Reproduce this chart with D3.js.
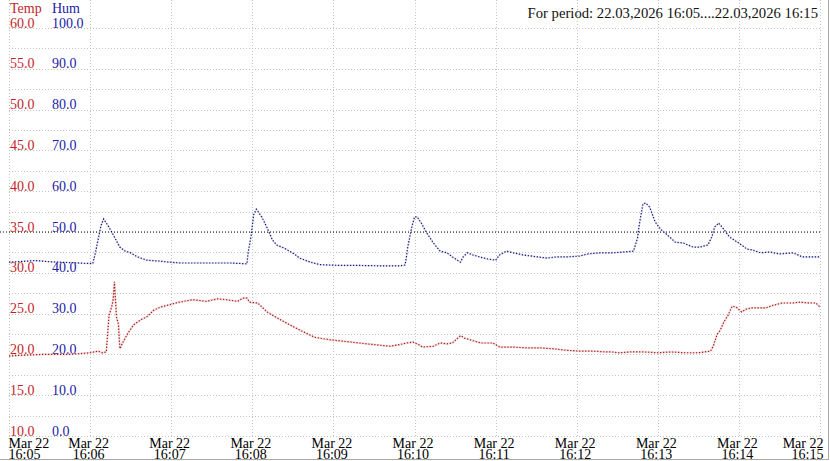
<!DOCTYPE html>
<html><head><meta charset="utf-8">
<script src="https://cdn.jsdelivr.net/npm/d3@7"></script>
<style>
body{margin:0;background:#fff;}
svg{display:block;font-family:"Liberation Serif","Times New Roman",serif;}
</style></head><body>
<svg id="c" width="830" height="461"></svg>
<script>
// ---------- data ----------
const periodStart = "2026-03-22T16:05:00";
const periodEnd   = "2026-03-22T16:15:00";
const titleText = "For period: 22.03,2026 16:05....22.03,2026 16:15";
const tempHeader = "Temp";
const humHeader = "Hum";
const tempTicks = [10, 15, 20, 25, 30, 35, 40, 45, 50, 55, 60];
const humTicks  = [0, 10, 20, 30, 40, 50, 60, 70, 80, 90, 100];
const gridTemps = [10,12.5,15,17.5,20,22.5,25,27.5,30,32.5,35,37.5,40,42.5,45,47.5,50,52.5,55,57.5,60];
const timeTickMinutes = [0,1,2,3,4,5,6,7,8,9,10];
const timeTickDate = "Mar 22";
const timeTickTimes = ["16:05","16:06","16:07","16:08","16:09","16:10","16:11","16:12","16:13","16:14","16:15"];
const refTemp = 35;

// [seconds after 16:05:00, humidity %]
const humSeries = [
 [0,42.6],[10,42.8],[20,43.0],[30,42.7],[45,42.5],[58,42.3],[62,42.3],[64,45.0],[66,48.3],[68,51.5],[70,53.2],
 [73,51.7],[76,50.0],[80,47.5],[82,46.3],[86,45.3],[90,44.9],[95,43.9],[102,43.1],[110,42.9],[119,42.6],
 [127,42.4],[139,42.4],[151,42.4],[164,42.4],[176,42.2],[177,45.1],[179,48.8],[181,54.2],[183,55.6],
 [187,53.7],[191,51.0],[195,48.0],[198,46.8],[204,46.0],[212,44.4],[215,43.6],[223,42.6],[230,42.0],
 [245,41.8],[260,41.8],[275,41.7],[289,41.7],[293,41.9],[294,43.9],[295,46.3],[298,51.2],[300,53.7],
 [302,53.7],[305,52.2],[309,49.8],[314,47.3],[319,45.3],[324,44.9],[328,43.9],[334,42.6],[336,43.9],
 [339,44.9],[343,44.4],[348,43.9],[354,43.4],[360,43.1],[363,44.4],[368,45.3],[373,44.9],[380,44.4],
 [391,43.9],[398,43.6],[405,43.9],[413,43.9],[422,44.1],[428,44.6],[437,44.9],[447,44.9],[455,45.1],
 [462,45.3],[465,48.5],[466,51.2],[469,56.9],[471,57.1],[474,56.1],[478,52.5],[482,50.7],[487,49.3],
 [493,47.5],[499,47.3],[506,46.3],[511,46.3],[517,46.8],[520,48.8],[522,51.2],[525,52.2],[528,51.0],
 [533,48.8],[539,47.5],[542,46.8],[546,45.8],[550,45.6],[556,44.9],[563,45.1],[570,44.6],[580,44.9],
 [587,43.9],[593,43.9],[600,43.9]
];
// [seconds after 16:05:00, temperature °C]
const tempSeries = [
 [0,19.8],[10,19.9],[25,20.0],[45,20.0],[60,20.2],[66,20.4],[69,20.2],[72,20.3],[74,24.8],[76,25.8],
 [77,26.7],[78,28.9],[79.5,24.6],[81,23.7],[82,20.7],[84,21.4],[88,22.6],[92,23.6],[97,24.2],[102,24.6],
 [107,25.4],[112,25.8],[119,26.1],[126,26.4],[136,26.7],[146,26.5],[154,26.8],[161,26.7],[169,26.5],
 [173,26.9],[176,26.9],[178,26.4],[184,26.3],[191,25.2],[198,24.5],[208,23.6],[215,23.0],[226,22.1],
 [237,21.8],[248,21.6],[259,21.4],[270,21.2],[282,21.0],[289,21.2],[294,21.4],[299,21.5],[303,21.2],
 [306,20.9],[314,21.0],[319,21.4],[324,21.3],[328,21.4],[334,22.3],[337,22.0],[341,21.8],[349,21.4],
 [358,21.4],[363,20.9],[373,20.9],[383,20.8],[393,20.8],[402,20.7],[413,20.5],[422,20.4],[432,20.4],
 [442,20.3],[446,20.3],[451,20.2],[460,20.3],[470,20.3],[480,20.2],[490,20.3],[500,20.2],[510,20.2],
 [519,20.4],[521,21.0],[524,22.5],[526,22.9],[529,24.0],[532,24.8],[535,25.9],[538,25.8],[542,25.2],
 [546,25.6],[550,25.7],[560,25.7],[565,26.0],[572,26.3],[580,26.3],[585,26.4],[592,26.3],[597,26.3],[600,25.8]
];

// ---------- layout ----------
const plotLeft = 9, plotRight = 820, plotTop = 28, plotBottom = 436;
const t0 = new Date(periodStart).getTime();
const toDate = s => new Date(t0 + s * 1000);

const x = d3.scaleTime().domain([new Date(periodStart), new Date(periodEnd)]).range([plotLeft, plotRight]);
const yT = d3.scaleLinear().domain([10, 60]).range([plotBottom, plotTop]);
const yH = d3.scaleLinear().domain([0, 100]).range([plotBottom, plotTop]);

const svg = d3.select("#c");
const gridColor = "#c4c4c4";
const tempColor = "#c41e2a";
const humColor = "#2222a8";

// horizontal grid
const hg = svg.append("g").attr("transform", `translate(${plotLeft},0)`)
  .call(d3.axisLeft(yT).tickValues(gridTemps).tickSize(-(plotRight - plotLeft)).tickFormat(""));
hg.select(".domain").remove();
hg.selectAll("line").attr("stroke", gridColor).attr("stroke-dasharray", "1,2").attr("shape-rendering","crispEdges");

// vertical grid
const vg = svg.append("g").attr("transform", `translate(0,${plotBottom})`)
  .call(d3.axisTop(x).tickValues(timeTickMinutes.map(m => toDate(m * 60))).tickSize(plotBottom).tickFormat(""));
vg.select(".domain").remove();
vg.selectAll("line").attr("stroke", gridColor).attr("stroke-dasharray", "1,2").attr("shape-rendering","crispEdges");

// border lines
svg.append("line").attr("x1", 0).attr("x2", 829).attr("y1", 459.5).attr("y2", 459.5).attr("stroke", "#a8a8a8");
svg.append("line").attr("x1", 828.5).attr("x2", 828.5).attr("y1", 0).attr("y2", 459.5).attr("stroke", "#a8a8a8");

// reference line
svg.append("line").attr("x1", 0).attr("x2", plotRight).attr("y1", yT(refTemp)).attr("y2", yT(refTemp))
  .attr("stroke", "#000").attr("stroke-dasharray", "1,2");

// y labels (temp / hum)
const ta = svg.append("g").attr("transform", "translate(10,0)")
  .call(d3.axisRight(yT).tickValues(tempTicks).tickSize(0).tickPadding(0).tickFormat(d3.format(".1f")));
ta.select(".domain").remove();
ta.selectAll("text").attr("fill", tempColor).attr("font-size", 14).attr("font-family","Liberation Serif")
  .attr("dy", "-1").attr("text-anchor", "start");

const ha = svg.append("g").attr("transform", "translate(52,0)")
  .call(d3.axisRight(yH).tickValues(humTicks).tickSize(0).tickPadding(0).tickFormat(d3.format(".1f")));
ha.select(".domain").remove();
ha.selectAll("text").attr("fill", humColor).attr("font-size", 14).attr("font-family","Liberation Serif")
  .attr("dy", "-1").attr("text-anchor", "start");

svg.append("text").attr("x", 10).attr("y", 13).attr("fill", tempColor).attr("font-size", 14).text(tempHeader);
svg.append("text").attr("x", 52).attr("y", 13).attr("fill", humColor).attr("font-size", 14).text(humHeader);

// title
svg.append("text").attr("x", 818).attr("y", 18).attr("text-anchor", "end").attr("font-size", 14.7)
  .attr("fill", "#111").text(titleText);

// x axis labels
const xa = svg.append("g").attr("transform", "translate(0,436)")
  .call(d3.axisBottom(x).tickValues(timeTickMinutes.map(m => toDate(m * 60))).tickSize(0).tickPadding(0).tickFormat(""));
xa.select(".domain").remove();
xa.selectAll(".tick").each(function(d, i) {
  const t = d3.select(this).select("text");
  const anchor = i === 0 ? "start" : (i === timeTickMinutes.length - 1 ? "end" : "middle");
  const dx = i === 0 ? -1 : (i === timeTickMinutes.length - 1 ? 3 : -2);
  t.attr("text-anchor", anchor).attr("fill", "#000").attr("font-size", 14).attr("font-family","Liberation Serif").attr("dy", null).attr("y", 0);
  t.append("tspan").attr("x", dx).attr("y", 12).text(timeTickDate);
  t.append("tspan").attr("x", dx).attr("y", 23).text(timeTickTimes[i]);
});

// data lines
const lineT = d3.line().x(d => x(toDate(d[0]))).y(d => yT(d[1]));
const lineH = d3.line().x(d => x(toDate(d[0]))).y(d => yH(d[1]));

svg.append("path").datum(tempSeries).attr("d", lineT).attr("fill", "none")
  .attr("stroke", "#f4b8b8").attr("stroke-width", 2.2).attr("stroke-opacity", 0.45);
svg.append("path").datum(tempSeries).attr("d", lineT).attr("fill", "none")
  .attr("stroke", "#9e1c1c").attr("stroke-width", 1.2).attr("stroke-dasharray", "1.3,1.7");

svg.append("path").datum(humSeries).attr("d", lineH).attr("fill", "none")
  .attr("stroke", "#c8c8ee").attr("stroke-width", 2).attr("stroke-opacity", 0.4);
svg.append("path").datum(humSeries).attr("d", lineH).attr("fill", "none")
  .attr("stroke", "#15156e").attr("stroke-width", 1.2).attr("stroke-dasharray", "1.3,1.7");
</script>
</body></html>
